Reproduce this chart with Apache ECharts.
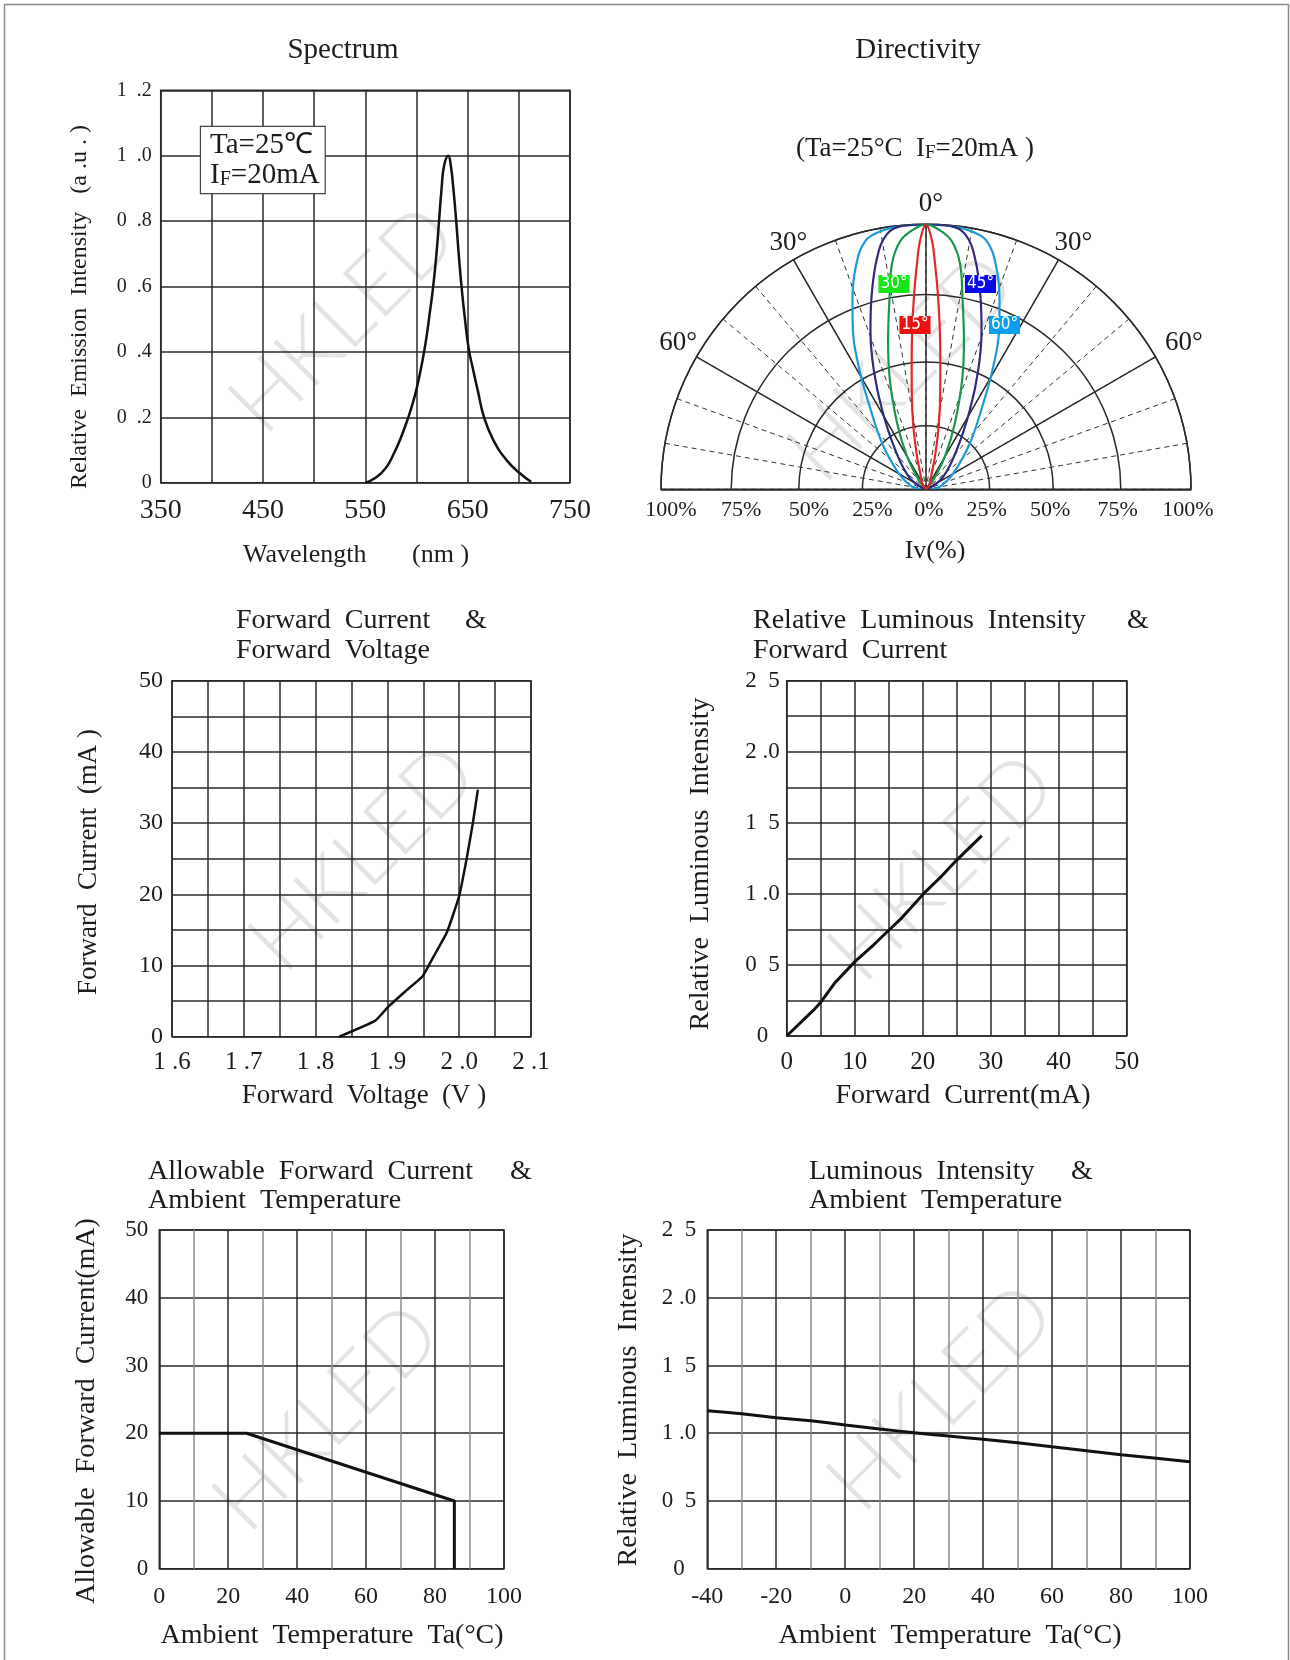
<!DOCTYPE html>
<html>
<head>
<meta charset="utf-8">
<title>LED characteristic curves</title>
<script src="https://cdn.jsdelivr.net/npm/echarts@6.0.0/dist/echarts.min.js"></script>
<style>
html,body{margin:0;padding:0;background:#fff;}
#chart{width:1290px;height:1660px;}
</style>
</head>
<body>
<div id="chart"></div>
<script>
// ---------------- data ----------------
// Spectrum
const specWavelength = [550, 560, 570, 578, 585, 592, 597, 601, 605, 609, 613, 616.3, 619.5, 622, 624.5, 627, 631, 633.5, 636, 638, 640, 642, 644, 647, 651, 655, 660, 666, 675, 688, 701, 712];
const specIntensity  = [0, 0.015, 0.045, 0.09, 0.14, 0.2, 0.25, 0.3, 0.36, 0.43, 0.52, 0.6, 0.7, 0.8, 0.9, 0.97, 1.0, 0.97, 0.9, 0.83, 0.75, 0.67, 0.6, 0.51, 0.41, 0.35, 0.28, 0.2, 0.131, 0.069, 0.029, 0.003];
const specXLabels = [350, 450, 550, 650, 750];
const specYTicks  = [0, 0.2, 0.4, 0.6, 0.8, 1.0, 1.2];
const specYLabels = ['0', '0  .2', '0  .4', '0  .6', '0  .8', '1  .0', '1  .2'];

// Directivity (angle from axis in degrees, relative intensity), right half of each lobe
const dirAngles15 = [0, 1.4, 2.3, 3.35, 4.7, 6.2, 8.2, 11.1, 15.4, 19.5, 33.7, 50];
const dirIv15     = [1.0, 0.937, 0.85, 0.75, 0.626, 0.50, 0.377, 0.253, 0.127, 0.064, 0.027, 0];
const dirAngles30 = [0, 2.7, 5.9, 8.6, 10.7, 14.3, 18, 23.7, 30, 38, 55];
const dirIv30     = [1.0, 0.982, 0.942, 0.86, 0.74, 0.579, 0.445, 0.27, 0.142, 0.045, 0];
const dirAngles45 = [0, 5.2, 8.7, 11.9, 15.8, 19.3, 23.7, 29, 38, 54, 75];
const dirIv45     = [1.0, 0.998, 0.974, 0.894, 0.755, 0.634, 0.49, 0.341, 0.188, 0.08, 0.01];
const dirAngles60 = [0, 5, 9.5, 13.7, 17.6, 21.3, 24.7, 28.8, 33.7, 43.7, 59.7, 79, 90];
const dirIv60     = [1.0, 1.0, 0.99, 0.965, 0.878, 0.764, 0.66, 0.526, 0.389, 0.239, 0.119, 0.054, 0.02];
const dirRings = [0.24, 0.48, 0.735, 1];
const dirRingLabels = ['25%', '50%', '75%', '100%'];
const dirAngleLabels = [-60, -30, 0, 30, 60];
const dirBeamNames = ['15°', '30°', '45°', '60°'];

// Forward current vs forward voltage
const vfVoltage = [1.833, 1.883, 1.901, 1.927, 1.949, 1.964, 1.983, 2.000, 2.010, 2.019, 2.026];
const vfCurrent = [0, 2.25, 4.2, 6.55, 8.5, 11.2, 14.7, 19.8, 24.8, 30, 34.7];
const vfXTicks  = [1.6, 1.7, 1.8, 1.9, 2.0, 2.1];
const vfXLabels = ['1 .6', '1 .7', '1 .8', '1 .9', '2 .0', '2 .1'];
const vfYLabels = [0, 10, 20, 30, 40, 50];

// Relative luminous intensity vs forward current
const ifCurrent = [0, 3.9, 5.05, 7.1, 9.95, 12.75, 15.05, 16.9, 20.1, 22.8, 25, 28.7];
const ifRelLum  = [0, 0.18, 0.24, 0.375, 0.52, 0.64, 0.746, 0.83, 1.0, 1.126, 1.238, 1.41];
const ifXLabels = [0, 10, 20, 30, 40, 50];
const lumYTicks  = [0, 0.5, 1.0, 1.5, 2.0, 2.5];
const lumYLabels = ['0  ', '0  5', '1 .0', '1  5', '2 .0', '2  5'];

// Allowable forward current vs ambient temperature
const derTemp    = [0, 25.3, 85.6, 85.6];
const derCurrent = [20, 20, 10, 0];
const derXLabels = [0, 20, 40, 60, 80, 100];
const derYLabels = [0, 10, 20, 30, 40, 50];

// Luminous intensity vs ambient temperature
const ltTemp   = [-40, -30, -20, -10, 0, 10, 20, 30, 40, 50, 60, 70, 80, 100];
const ltRelLum = [1.166, 1.144, 1.115, 1.092, 1.061, 1.031, 1.004, 0.979, 0.955, 0.93, 0.90, 0.871, 0.841, 0.79];
const ltXLabels = [-40, -20, 0, 20, 40, 60, 80, 100];

// ---------------- helpers ----------------
const SERIF = "'Liberation Serif','Times New Roman',Times,serif";
const NARROW = "'Liberation Sans Narrow','DejaVu Sans Condensed','Liberation Sans',sans-serif";
const TXT = '#1c1c1c';
const GRID_C = '#2a2a2a';
const MINOR_C = '#8a8a8a';
const CURVE_C = '#111';
const POLAR_C = [926, 489.3];
const POLAR_R = 265;

function zip(xs, ys) { return xs.map((x, i) => [x, ys[i]]); }
function lookup(ticks, labels) {
  return function (v) {
    const i = ticks.findIndex(t => Math.abs(t - v) < 1e-6);
    return i < 0 ? '' : String(labels[i]);
  };
}
function lobe(angles, iv) {
  const right = angles.map((a, i) => [iv[i], a]);
  const left = right.slice(1).reverse().map(p => [p[0], -p[1]]);
  return left.concat(right);
}
function axis(gridIndex, min, max, interval, labelVals, fmt, fontSize, margin, minorSplit) {
  const a = {
    type: 'value', gridIndex, min, max, interval,
    axisLine: { show: false }, axisTick: { show: false },
    splitLine: { show: true, lineStyle: { color: GRID_C, width: 1.5 } },
    axisLabel: { customValues: labelVals, fontSize, margin, color: TXT, fontFamily: SERIF },
    z: 1
  };
  if (fmt) a.axisLabel.formatter = fmt;
  if (minorSplit) {
    a.minorTick = { show: false, splitNumber: minorSplit };
    a.minorSplitLine = { show: true, lineStyle: { color: MINOR_C, width: 1.5 } };
  }
  return a;
}
function grid(left, top, width, height) {
  return { left, top, width, height, show: true, borderColor: GRID_C, borderWidth: 1.5,
           backgroundColor: 'transparent', containLabel: false, outerBoundsMode: 'none' };
}
function text(x, y, str, size, extra) {
  return {
    type: 'text', x, y, z: 10, silent: true,
    rotation: (extra && extra.rotation) || 0,
    style: Object.assign({
      text: str, fill: TXT, font: size + 'px ' + SERIF,
      align: (extra && extra.align) || 'left', textAlign: (extra && extra.align) || 'left',
      verticalAlign: 'middle', textVerticalAlign: 'middle'
    }, (extra && extra.style) || {})
  };
}
function mark(x, y) {
  return {
    type: 'text', x, y, z: -5, silent: true, rotation: Math.PI / 4,
    style: { text: 'HKLED', fill: '#e3e3e3', font: "300 86px Lato, 'Liberation Sans', sans-serif",
             align: 'center', textAlign: 'center', verticalAlign: 'middle', textVerticalAlign: 'middle' }
  };
}
function beamTag(x, y, str, bg) {
  return {
    type: 'text', x, y, z: 12, silent: true,
    style: { text: str, fill: '#fff', font: '17px ' + NARROW, backgroundColor: bg, padding: [1, 2, 0, 2],
             align: 'center', textAlign: 'center', verticalAlign: 'middle', textVerticalAlign: 'middle' }
  };
}
// angle labels of the directivity diagram, placed just outside the outer arc
function angleLabel(deg) {
  const r = POLAR_R + (Math.abs(deg) === 60 ? 27 : 20), t = deg * Math.PI / 180;
  return text(POLAR_C[0] + r * Math.sin(t) + 5, POLAR_C[1] - r * Math.cos(t), Math.abs(deg) + '°', 27, { align: 'center' });
}

const dirPercentVals = dirRings.slice().reverse().map(v => -v).concat([0], dirRings);
const dirPercentLabels = dirRingLabels.slice().reverse().map(s => '{l|' + s + '}')
  .concat(['{c|0%}'], dirRingLabels.map(s => '{r|' + s + '}'));

// ---------------- chart ----------------
const chart = echarts.init(document.getElementById('chart'), null, { renderer: 'canvas', width: 1290, height: 1660 });

const pctRich = {
  l: { fontSize: 22, fontFamily: SERIF, color: TXT, padding: [0, 0, 0, 20] },
  c: { fontSize: 22, fontFamily: SERIF, color: TXT, padding: [0, 0, 0, 6] },
  r: { fontSize: 22, fontFamily: SERIF, color: TXT, padding: [0, 6, 0, 0] }
};

const option = {
  backgroundColor: '#fff',
  animation: false,
  grid: [
    grid(160.7, 90.3, 409.3, 392.4),   // spectrum
    grid(172, 680.7, 359, 356),        // IF-VF
    grid(786.7, 680.7, 340, 355.3),    // Iv-IF
    grid(159.3, 1230, 344.7, 338.7),   // IF-Ta
    grid(707.3, 1230, 482.6, 338.7),   // Iv-Ta
    { left: 661, top: 400, width: 530, height: 89.3, show: false, outerBoundsMode: 'none' } // directivity percent scale
  ],
  xAxis: [
    axis(0, 350, 750, 50, specXLabels, null, 28, 14),
    axis(1, 1.6, 2.1, 0.05, vfXTicks, lookup(vfXTicks, vfXLabels), 25, 13),
    axis(2, 0, 50, 5, ifXLabels, null, 25, 14),
    axis(3, 0, 100, 20, derXLabels, null, 24, 16, 2),
    axis(4, -40, 100, 20, ltXLabels, null, 24, 16, 2),
    {
      type: 'value', gridIndex: 5, min: -1, max: 1,
      axisLine: { show: true, lineStyle: { color: GRID_C, width: 1.5 } },
      axisTick: { show: false }, splitLine: { show: false },
      axisLabel: { customValues: dirPercentVals, formatter: lookup(dirPercentVals, dirPercentLabels),
                   fontSize: 22, margin: 10, color: TXT, fontFamily: SERIF, rich: pctRich }
    }
  ],
  yAxis: [
    axis(0, 0, 1.2, 0.2, specYTicks, lookup(specYTicks, specYLabels), 20, 9),
    axis(1, 0, 50, 5, vfYLabels, null, 24, 9),
    axis(2, 0, 2.5, 0.25, lumYTicks, lookup(lumYTicks, lumYLabels), 23, 7),
    axis(3, 0, 50, 10, derYLabels, null, 23, 11),
    axis(4, 0, 2.5, 0.5, lumYTicks, lookup(lumYTicks, lumYLabels), 23, 11),
    { type: 'value', gridIndex: 5, min: 0, max: 1, show: false }
  ],
  polar: [
    { center: POLAR_C, radius: POLAR_R },
    { center: POLAR_C, radius: POLAR_R }
  ],
  angleAxis: [
    {
      polarIndex: 0, type: 'value', min: -90, max: 90, interval: 10, startAngle: 180, endAngle: 0,
      axisLine: { show: false }, axisTick: { show: false }, axisLabel: { show: false },
      splitLine: { show: true, lineStyle: { color: '#333', width: 1, type: [5, 4] } }
    },
    {
      polarIndex: 1, type: 'value', min: -90, max: 90, interval: 30, startAngle: 180, endAngle: 0,
      axisLine: { show: true, lineStyle: { color: GRID_C, width: 1.5 } },
      axisTick: { show: false },
      axisLabel: { show: false },
      splitLine: { show: true, lineStyle: { color: GRID_C, width: 1.5 } }
    }
  ],
  radiusAxis: [
    { polarIndex: 0, type: 'value', min: 0, max: 1, axisLine: { show: false }, axisTick: { show: false },
      axisLabel: { show: false }, splitLine: { show: false } },
    { polarIndex: 1, type: 'value', min: 0, max: 1, axisLine: { show: false },
      axisTick: { show: false, customValues: dirRings },
      axisLabel: { show: false, customValues: dirRings },
      splitLine: { show: true, lineStyle: { color: GRID_C, width: 1.5 } } }
  ],
  series: [
    { name: 'Spectrum', type: 'line', xAxisIndex: 0, yAxisIndex: 0, data: zip(specWavelength, specIntensity),
      smooth: 0.5, showSymbol: false, lineStyle: { color: CURVE_C, width: 2.5 }, z: 5 },
    { name: 'IF-VF', type: 'line', xAxisIndex: 1, yAxisIndex: 1, data: zip(vfVoltage, vfCurrent),
      smooth: 0.15, showSymbol: false, lineStyle: { color: CURVE_C, width: 2.5 }, z: 5 },
    { name: 'Iv-IF', type: 'line', xAxisIndex: 2, yAxisIndex: 2, data: zip(ifCurrent, ifRelLum),
      smooth: false, showSymbol: false, lineStyle: { color: CURVE_C, width: 3 }, z: 5 },
    { name: 'IF-Ta', type: 'line', xAxisIndex: 3, yAxisIndex: 3, data: zip(derTemp, derCurrent),
      smooth: false, showSymbol: false, lineStyle: { color: CURVE_C, width: 3 }, z: 5 },
    { name: 'Iv-Ta', type: 'line', xAxisIndex: 4, yAxisIndex: 4, data: zip(ltTemp, ltRelLum),
      smooth: 0.2, showSymbol: false, lineStyle: { color: CURVE_C, width: 3 }, z: 5 },
    { name: dirBeamNames[3], type: 'line', coordinateSystem: 'polar', polarIndex: 1, data: lobe(dirAngles60, dirIv60),
      smooth: 0.4, showSymbol: false, lineStyle: { color: '#1a9ad9', width: 2.2 }, z: 6 },
    { name: dirBeamNames[2], type: 'line', coordinateSystem: 'polar', polarIndex: 1, data: lobe(dirAngles45, dirIv45),
      smooth: 0.4, showSymbol: false, lineStyle: { color: '#2c2b7d', width: 2.2 }, z: 6 },
    { name: dirBeamNames[1], type: 'line', coordinateSystem: 'polar', polarIndex: 1, data: lobe(dirAngles30, dirIv30),
      smooth: 0.4, showSymbol: false, lineStyle: { color: '#1a964c', width: 2.2 }, z: 6 },
    { name: dirBeamNames[0], type: 'line', coordinateSystem: 'polar', polarIndex: 1, data: lobe(dirAngles15, dirIv15),
      smooth: 0.4, showSymbol: false, lineStyle: { color: '#e3282c', width: 2.2 }, z: 6 }
  ],
  graphic: [
    // page frame
    { type: 'rect', z: 20, silent: true, shape: { x: 4.5, y: 4.5, width: 1284, height: 1700 },
      style: { fill: 'none', stroke: '#8c8c8c', lineWidth: 1.5 } },
    // watermarks
    mark(343, 320), mark(902, 368), mark(363, 858), mark(942, 868), mark(327, 1418), mark(941, 1398),
    // spectrum
    text(343, 50, 'Spectrum', 29, { align: 'center' }),
    {
      type: 'text', x: 201, y: 127, z: 11, silent: true,
      style: { text: 'Ta=25℃\nI{f|F}=20mA', fill: TXT, font: '29px ' + SERIF, lineHeight: 30,
               backgroundColor: '#fff', borderColor: '#444', borderWidth: 1.2, padding: [3, 5, 3, 9],
               align: 'left', textAlign: 'left', verticalAlign: 'top', textVerticalAlign: 'top',
               rich: { f: { fontSize: 20, fontFamily: SERIF, fill: TXT, verticalAlign: 'bottom', lineHeight: 30 } } }
    },
    text(243, 555, 'Wavelength       (nm )', 26),
    text(80, 307, 'Relative  Emission  Intensity   (a .u . )', 24, { align: 'center', rotation: Math.PI / 2 }),
    // directivity
    text(918, 50, 'Directivity', 29, { align: 'center' }),
    {
      type: 'text', x: 915, y: 149, z: 11, silent: true,
      style: { text: '(Ta=25°C  I{f|F}=20mA )', fill: TXT, font: '27px ' + SERIF,
               align: 'center', textAlign: 'center', verticalAlign: 'middle', textVerticalAlign: 'middle',
               rich: { f: { fontSize: 19, fontFamily: SERIF, fill: TXT, verticalAlign: 'bottom' } } }
    },
    ...dirAngleLabels.map(angleLabel),
    text(935, 551, 'Iv(%)', 26, { align: 'center' }),
    beamTag(894, 284, dirBeamNames[1], '#16e616'),
    beamTag(980.5, 284, dirBeamNames[2], '#0a0ae8'),
    beamTag(915, 325, dirBeamNames[0], '#ee1111'),
    beamTag(1004.5, 325, dirBeamNames[3], '#0a9ef0'),
    // IF - VF
    text(236, 621, 'Forward  Current', 28),
    text(476, 621, '&', 28, { align: 'center' }),
    text(236, 651, 'Forward  Voltage', 28),
    text(364, 1096, 'Forward  Voltage  (V )', 27, { align: 'center' }),
    text(89, 862, 'Forward  Current  (mA )', 27, { align: 'center', rotation: Math.PI / 2 }),
    // Iv - IF
    text(753, 621, 'Relative  Luminous  Intensity', 28),
    text(1138, 621, '&', 28, { align: 'center' }),
    text(753, 651, 'Forward  Current', 28),
    text(963, 1096, 'Forward  Current(mA)', 28, { align: 'center' }),
    text(701, 864, 'Relative  Luminous  Intensity', 28, { align: 'center', rotation: Math.PI / 2 }),
    // IF - Ta
    text(148, 1172, 'Allowable  Forward  Current', 28),
    text(521, 1172, '&', 28, { align: 'center' }),
    text(148, 1201, 'Ambient  Temperature', 28),
    text(332, 1636, 'Ambient  Temperature  Ta(°C)', 28, { align: 'center' }),
    text(87, 1411, 'Allowable  Forward  Current(mA)', 28, { align: 'center', rotation: Math.PI / 2 }),
    // Iv - Ta
    text(809, 1172, 'Luminous  Intensity', 28),
    text(1082, 1172, '&', 28, { align: 'center' }),
    text(809, 1201, 'Ambient  Temperature', 28),
    text(950, 1636, 'Ambient  Temperature  Ta(°C)', 28, { align: 'center' }),
    text(629, 1400, 'Relative  Luminous  Intensity', 28, { align: 'center', rotation: Math.PI / 2 })
  ]
};

chart.setOption(option);
</script>
</body>
</html>
